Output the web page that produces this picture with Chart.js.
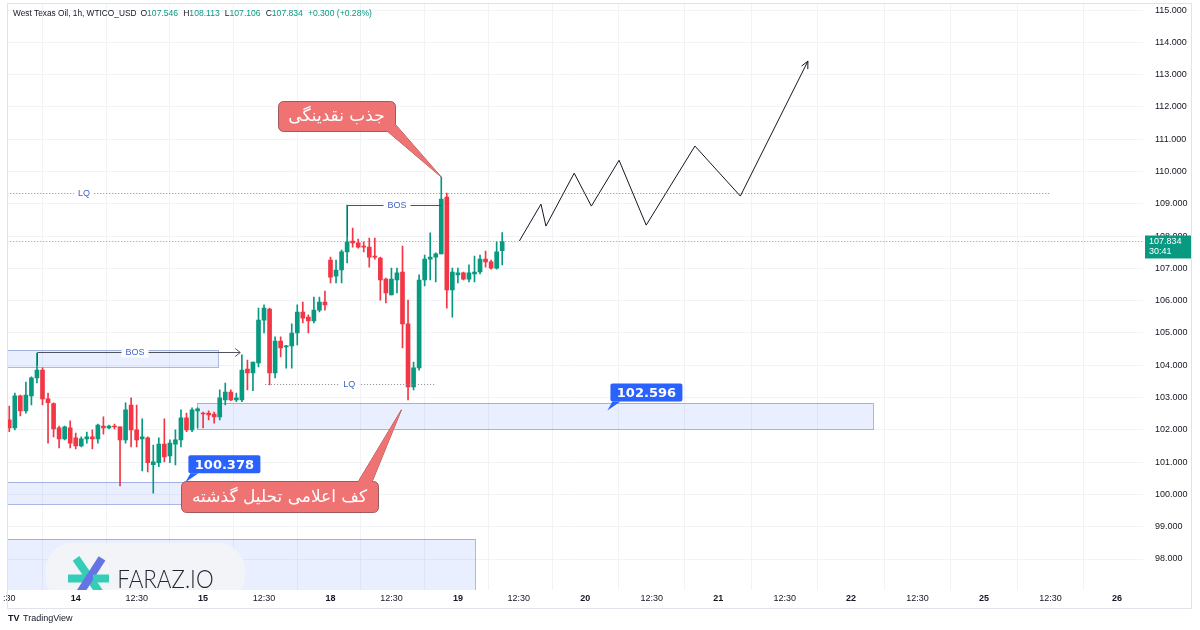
<!DOCTYPE html>
<html>
<head>
<meta charset="utf-8">
<script src="https://cdn.jsdelivr.net/npm/chart.js@4.4.1/dist/chart.umd.min.js"></script>
<style>
  html, body { margin: 0; padding: 0; background: #fff; }
  canvas { display: block; }
</style>
</head>
<body>
<canvas id="chart" width="1200" height="630"></canvas>
<script>
// ── DATA: hourly candles (bar index 0..89) ──
const opens  = [102.31,102.06,103.05,102.59,103.05,103.61,103.85,102.96,102.81,102.06,101.72,102.06,101.75,101.50,101.72,101.78,101.72,102.12,102.06,102.12,
                102.09,101.69,102.77,102.00,101.72,101.75,100.92,100.98,101.56,101.19,101.56,101.69,102.37,102.00,102.59,102.52,102.52,102.49,102.40,102.93,
                103.17,102.93,102.93,103.88,103.76,104.07,105.40,105.74,103.76,104.75,104.57,104.60,105.00,105.65,105.49,105.37,105.71,105.96,107.26,106.76,
                106.95,107.51,107.85,107.79,107.69,107.66,107.38,107.32,106.67,106.18,106.64,106.89,105.28,103.33,103.92,106.64,107.29,107.35,107.45,109.21,
                106.33,106.80,106.86,106.67,106.83,106.89,107.29,107.20,107.01,107.546];
const highs  = [102.74,103.14,103.08,103.48,103.64,104.38,103.92,103.14,102.84,102.12,102.12,102.28,101.90,101.78,101.93,102.00,102.18,102.40,102.15,102.18,
                102.09,102.84,102.99,102.77,102.34,101.78,101.53,101.75,102.34,101.69,102.00,102.62,102.52,102.68,102.68,102.55,102.59,102.55,103.24,103.45,
                103.24,103.14,104.32,104.16,104.10,105.77,105.87,105.77,104.88,104.88,104.62,105.28,105.87,105.96,105.56,106.11,106.11,106.30,107.35,107.26,
                107.57,108.96,108.25,107.91,107.82,107.94,107.94,107.35,106.70,107.01,107.01,107.69,106.02,104.10,106.80,107.41,108.10,107.48,109.83,109.33,
                107.01,107.01,106.89,107.11,107.38,107.41,107.54,107.26,107.82,108.113];
const lows   = [101.94,102.00,102.43,102.52,102.77,103.45,102.77,101.59,101.78,101.44,101.69,101.44,101.41,101.47,101.59,101.41,101.59,101.87,102.03,102.03,
                100.26,101.59,101.47,101.47,100.73,100.70,100.04,100.86,101.01,100.98,100.91,101.47,101.94,101.94,102.06,102.06,102.31,102.21,102.31,102.77,
                102.90,102.87,102.87,103.24,103.21,103.95,105.00,103.39,103.61,104.26,103.91,103.91,104.63,105.31,105.00,105.31,105.65,105.71,106.55,106.55,
                106.55,107.17,107.66,107.63,107.51,107.04,107.29,106.02,105.93,106.18,106.24,104.54,102.93,103.24,103.85,106.46,106.64,106.58,107.45,105.77,
                105.49,106.55,106.64,106.58,106.58,106.83,107.04,106.98,106.98,107.106];
const closes = [102.06,103.05,102.59,103.08,103.61,103.85,102.96,102.84,102.03,101.72,102.09,101.59,101.50,101.72,101.78,101.72,102.15,102.06,102.12,102.09,
                101.69,102.62,102.00,101.69,101.78,100.98,101.01,101.56,101.16,101.59,101.69,102.37,102.00,102.62,102.65,102.49,102.46,102.40,102.99,103.17,
                102.93,102.99,103.85,103.76,104.10,105.40,105.77,103.76,104.75,104.54,104.60,105.00,105.65,105.46,105.37,105.71,105.96,105.87,106.73,106.95,
                107.51,107.82,107.79,107.66,107.66,107.35,107.35,106.64,106.24,106.67,106.86,105.28,103.33,103.92,106.64,107.29,107.35,107.45,109.15,106.33,
                106.89,106.86,106.67,106.86,106.89,107.29,107.20,107.01,107.51,107.834];

// ── eje X: posiciones (índice de vela) y etiquetas ──
const tickPos    = [0, 12, 23, 35, 46, 58, 69, 81, 92, 104, 116, 128, 140, 152, 164, 176, 188, 200];
const tickLabels = [":30", "14", "12:30", "15", "12:30", "18", "12:30", "19", "12:30", "20", "12:30", "21", "12:30", "22", "12:30", "25", "12:30", "26"];
const priceTicks = [98, 99, 100, 101, 102, 103, 104, 105, 106, 107, 108, 109, 110, 111, 112, 113, 114, 115];

// ── proyección (zigzag) ──
const pathX = [92.1, 96.0, 96.9, 102.0, 105.1, 110.1, 115.0, 123.8, 132.0, 144.2];
const pathY = [107.85, 108.99, 108.31, 109.95, 108.93, 110.35, 108.34, 110.79, 109.24, 113.42];

// ── zonas (rectángulos azules): desde/hasta índice, precio arriba/abajo ──
const zoneFrom   = [null, 33.9, null, null];
const zoneTo     = [37.7, 156.0, 31.8, 84.1];
const zoneTop    = [104.47, 102.83, 100.378, 98.62];
const zoneBottom = [103.94, 102.03, 99.70, 96.0];

const lastPrice = 107.834;

const GREEN = "#089981";
const RED = "#f23645";
const FONT = "'Liberation Sans'";
const idx = closes.map((_, i) => i);
const candleColors = idx.map(i => closes[i] >= opens[i] ? GREEN : RED);

function dotted(ctx, x0, y0, x1, y1, color) {
    ctx.save();
    ctx.strokeStyle = color;
    ctx.lineWidth = 1;
    ctx.setLineDash([1, 2]);
    ctx.beginPath();
    ctx.moveTo(x0, y0); ctx.lineTo(x1, y1);
    ctx.stroke();
    ctx.restore();
}

function gapLabel(ctx, text, cx, cy, color) {
    ctx.font = "9px " + FONT;
    const w = ctx.measureText(text).width + 8;
    ctx.fillStyle = "#fff";
    ctx.fillRect(cx - w / 2, cy - 5, w, 10);
    ctx.fillStyle = color;
    ctx.textAlign = "center";
    ctx.textBaseline = "middle";
    ctx.fillText(text, cx, cy);
}

function roundRect(ctx, x, y, w, h, r) {
    ctx.beginPath();
    ctx.moveTo(x + r, y);
    ctx.arcTo(x + w, y, x + w, y + h, r);
    ctx.arcTo(x + w, y + h, x, y + h, r);
    ctx.arcTo(x, y + h, x, y, r);
    ctx.arcTo(x, y, x + w, y, r);
    ctx.closePath();
}

const overlay = {
    id: "overlay",
    beforeDatasetsDraw(chart) {
        const { ctx, chartArea: a, scales: { x, y } } = chart;
        ctx.save();
        ctx.beginPath();
        ctx.rect(a.left, a.top, a.right - a.left, a.bottom - a.top);
        ctx.clip();
        zoneTo.forEach((to, i) => {
            const x0 = zoneFrom[i] == null ? a.left : x.getPixelForValue(zoneFrom[i]);
            const x1 = x.getPixelForValue(to);
            const y0 = y.getPixelForValue(zoneTop[i]);
            const y1 = y.getPixelForValue(zoneBottom[i]);
            ctx.fillStyle = "rgba(41,98,255,0.10)";
            ctx.fillRect(x0, y0, x1 - x0, y1 - y0);
            ctx.strokeStyle = "rgba(70,100,190,0.45)";
            ctx.lineWidth = 1;
            ctx.strokeRect(Math.round(x0) + 0.5, Math.round(y0) + 0.5, Math.round(x1 - x0), Math.round(y1 - y0));
        });
        // línea de precio actual
        const yp = Math.round(y.getPixelForValue(lastPrice)) + 0.5;
        dotted(ctx, a.left, yp, a.right, yp, "#9598a1");
        ctx.restore();
    },
    afterDatasetsDraw(chart) {
        const { ctx, chartArea: a, scales: { x, y } } = chart;
        const X = v => x.getPixelForValue(v);
        const Y = v => y.getPixelForValue(v);
        ctx.save();
        ctx.beginPath();
        ctx.rect(a.left, a.top, a.right - a.left, a.bottom - a.top);
        ctx.clip();

        // LQ superior
        const yLq = Math.round(Y(109.33)) + 0.5;
        dotted(ctx, a.left, yLq, X(187.9), yLq, "#868993");
        gapLabel(ctx, "LQ", X(13.5), yLq, "#3f63c9");

        // LQ inferior
        const yLq2 = Math.round(Y(103.42)) + 0.5;
        dotted(ctx, X(46.2), yLq2, X(76.9), yLq2, "#868993");
        gapLabel(ctx, "LQ", X(61.4), yLq2, "#3f63c9");

        // BOS superior
        ctx.strokeStyle = "#50535e";
        ctx.lineWidth = 1;
        const yB1 = Math.round(Y(108.96)) + 0.5;
        ctx.beginPath();
        ctx.moveTo(Math.round(X(61)) + 0.5, Y(108.0));
        ctx.lineTo(Math.round(X(61)) + 0.5, yB1);
        ctx.lineTo(X(78), yB1);
        ctx.stroke();
        gapLabel(ctx, "BOS", X(70), yB1, "#3f63c9");

        // BOS inferior con flecha
        const yB2 = Math.round(Y(104.40)) + 0.5;
        const xe = X(41.7);
        ctx.strokeStyle = "#50535e";
        ctx.beginPath();
        ctx.moveTo(Math.round(X(5)) + 0.5, Y(104.0));
        ctx.lineTo(Math.round(X(5)) + 0.5, yB2);
        ctx.lineTo(xe, yB2);
        ctx.moveTo(xe - 5, yB2 - 4); ctx.lineTo(xe, yB2); ctx.lineTo(xe - 5, yB2 + 4);
        ctx.stroke();
        gapLabel(ctx, "BOS", X(22.7), yB2, "#3f63c9");

        // flecha al final del zigzag
        const n = pathX.length;
        const px = X(pathX[n - 1]), py = Y(pathY[n - 1]);
        const ang = Math.atan2(py - Y(pathY[n - 2]), px - X(pathX[n - 2]));
        ctx.strokeStyle = "#131722";
        ctx.beginPath();
        ctx.moveTo(px - 8 * Math.cos(ang - 0.45), py - 8 * Math.sin(ang - 0.45));
        ctx.lineTo(px, py);
        ctx.lineTo(px - 8 * Math.cos(ang + 0.45), py - 8 * Math.sin(ang + 0.45));
        ctx.stroke();

        // logo FARAZ.IO
        ctx.fillStyle = "#f3f4f7";
        roundRect(ctx, X(6.5), Y(98.5), X(42.6) - X(6.5), 60, 28);
        ctx.fill();
        ctx.lineCap = "butt";
        ctx.lineWidth = 8;
        const lx = X(14.4), ly = Y(97.4);
        ctx.strokeStyle = "#35cdb8";
        ctx.beginPath(); ctx.moveTo(lx - 21, ly); ctx.lineTo(lx + 4, ly); ctx.stroke();
        ctx.beginPath(); ctx.moveTo(lx - 13, ly - 20); ctx.lineTo(lx + 14, ly + 19); ctx.stroke();
        ctx.strokeStyle = "#6474e5";
        ctx.beginPath(); ctx.moveTo(lx + 13, ly - 20); ctx.lineTo(lx - 12, ly + 19); ctx.stroke();
        ctx.strokeStyle = "#35cdb8";
        ctx.beginPath(); ctx.moveTo(lx + 4, ly); ctx.lineTo(lx + 20, ly); ctx.stroke();
        ctx.fillStyle = "#1f2633";
        ctx.font = "300 26px Lato";
        ctx.textAlign = "left";
        ctx.textBaseline = "alphabetic";
        ctx.save();
        ctx.translate(X(19.5), ly + 10);
        ctx.scale(0.86, 1);
        ctx.fillText("FARAZ.IO", 0, 0);
        ctx.restore();
        ctx.restore();

        // etiquetas de precio azules
        [[31.8, 100.378, "100.378"], [108, 102.596, "102.596"]].forEach(([ix, p, t]) => {
            const tx = X(ix), ty = Y(p);
            const bx = tx + 3, by = ty - 27, bw = 72, bh = 18;
            ctx.fillStyle = "#2962ff";
            roundRect(ctx, bx, by, bw, bh, 2);
            ctx.fill();
            ctx.beginPath();
            ctx.moveTo(bx + 2, by + bh); ctx.lineTo(bx + 10, by + bh); ctx.lineTo(tx, ty);
            ctx.closePath(); ctx.fill();
            ctx.fillStyle = "#fff";
            ctx.font = "bold 13px 'DejaVu Sans'";
            ctx.textAlign = "center";
            ctx.textBaseline = "middle";
            ctx.fillText(t, bx + bw / 2, by + bh / 2 + 1);
        });

        // globos rojos
        const callout = (tipI, tipP, bx, by, bw, bh, b1, b2, text) => {
            const tx = X(tipI), ty = Y(tipP);
            ctx.fillStyle = "#f07373";
            ctx.strokeStyle = "#9c5a5a";
            ctx.lineWidth = 1;
            ctx.beginPath();
            ctx.moveTo(b1[0], b1[1]); ctx.lineTo(tx, ty); ctx.lineTo(b2[0], b2[1]);
            ctx.closePath();
            ctx.fill(); ctx.stroke();
            roundRect(ctx, bx + 0.5, by + 0.5, bw, bh, 5);
            ctx.fill(); ctx.stroke();
            ctx.beginPath();
            ctx.moveTo(b1[0], b1[1]); ctx.lineTo(tx, ty); ctx.lineTo(b2[0], b2[1]);
            ctx.closePath();
            ctx.fill();
            ctx.fillStyle = "#fff";
            ctx.font = "17px 'DejaVu Sans'";
            ctx.textAlign = "center";
            ctx.textBaseline = "middle";
            ctx.direction = "rtl";
            ctx.fillText(text, bx + bw / 2, by + bh / 2 + 1);
            ctx.direction = "ltr";
        };
        callout(78, 109.83, 278, 101, 117, 30, [387, 131], [395, 124], "جذب نقدینگی");
        callout(70.8, 102.62, 181, 481, 197, 31, [358, 482], [372, 482], "کف اعلامی تحلیل گذشته");
    },
    afterDraw(chart) {
        const { ctx, chartArea: a, scales: { y } } = chart;
        ctx.save();
        // marco
        ctx.strokeStyle = "#e0e3eb";
        ctx.lineWidth = 1;
        ctx.strokeRect(7.5, 3.5, 1184, 605);
        // cabecera
        ctx.textBaseline = "middle";
        ctx.textAlign = "left";
        let cx = 13;
        const put = (t, c, gap) => { ctx.fillStyle = c; ctx.fillText(t, cx, 14); cx += ctx.measureText(t).width + (gap || 0); };
        ctx.font = "8.3px " + FONT;
        put("West Texas Oil, 1h, WTICO_USD", "#131722", 4);
        ctx.font = "8.6px " + FONT;
        put("O", "#131722"); put("107.546", GREEN, 5);
        put("H", "#131722"); put("108.113", GREEN, 5);
        put("L", "#131722"); put("107.106", GREEN, 5);
        put("C", "#131722"); put("107.834", GREEN, 5);
        put("+0.300 (+0.28%)", GREEN);
        // etiqueta del último precio
        const yp = y.getPixelForValue(lastPrice);
        ctx.fillStyle = GREEN;
        ctx.fillRect(a.right + 2, yp - 6, 46, 23);
        ctx.fillStyle = "#fff";
        ctx.font = "9px " + FONT;
        ctx.fillText("107.834", a.right + 6, yp);
        ctx.fillText("30:41", a.right + 6, yp + 10);
        // pie TradingView
        ctx.fillStyle = "#131722";
        ctx.font = "bold 9px " + FONT;
        ctx.fillText("TV", 8, 619);
        ctx.font = "9px " + FONT;
        ctx.fillText("TradingView", 23, 619);
        ctx.restore();
    }
};

new Chart(document.getElementById("chart"), {
    type: "bar",
    data: {
        datasets: [
            {
                type: "line",
                data: pathX.map((v, i) => ({ x: v, y: pathY[i] })),
                borderColor: "#131722", borderWidth: 1, pointRadius: 0, tension: 0, order: 0
            },
            {
                data: idx.map(i => ({ x: i, y: [opens[i], closes[i]] })),
                backgroundColor: candleColors, barThickness: 4, grouped: false, order: 1
            },
            {
                data: idx.map(i => ({ x: i, y: [lows[i], highs[i]] })),
                backgroundColor: candleColors, barThickness: 1, grouped: false, order: 2
            }
        ]
    },
    options: {
        responsive: false,
        animation: false,
        layout: { padding: { left: 7, top: 3, right: 9, bottom: 22 } },
        plugins: { legend: { display: false }, tooltip: { enabled: false } },
        scales: {
            x: {
                type: "linear", min: -0.36, max: 204.7, offset: false,
                afterBuildTicks: s => { s.ticks = tickPos.map(v => ({ value: v })); },
                afterFit: s => { s.height = 18; },
                ticks: {
                    autoSkip: false, maxRotation: 0, padding: 3, color: "#131722",
                    font: c => ({ family: FONT, size: 9, weight: tickLabels[c.index] && tickLabels[c.index].indexOf(":") < 0 ? "bold" : "normal" }),
                    callback: (v, i) => tickLabels[i]
                },
                grid: { color: "#f2f3f6", drawTicks: false },
                border: { display: false }
            },
            y: {
                position: "right", min: 97.04, max: 115.22,
                afterBuildTicks: s => { s.ticks = priceTicks.map(v => ({ value: v })); },
                afterFit: s => { s.width = 48; s.paddingTop = 0; s.paddingBottom = 0; },
                ticks: {
                    padding: 12, color: "#131722",
                    font: { family: FONT, size: 9 },
                    callback: v => v.toFixed(3)
                },
                grid: { color: "#f2f3f6", drawTicks: false },
                border: { display: false }
            }
        }
    },
    plugins: [overlay]
});
</script>
</body>
</html>
